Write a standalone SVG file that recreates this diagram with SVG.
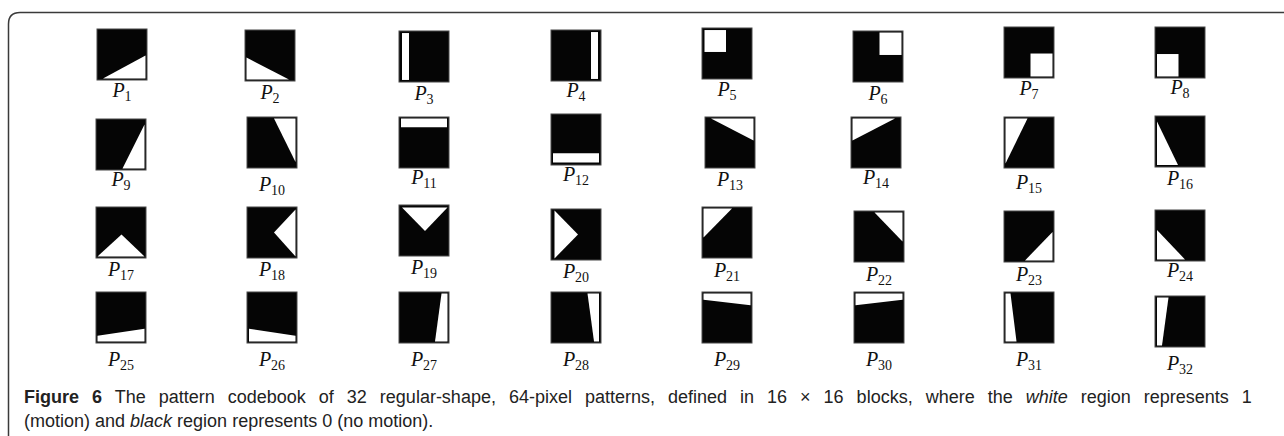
<svg xmlns="http://www.w3.org/2000/svg" width="1284" height="436" viewBox="0 0 1284 436">
<style>
.box{fill:#050505;stroke:#4a4a4a;stroke-width:1}
.w{fill:#fff}
.lbl{font-family:"Liberation Serif",serif;font-style:italic;font-size:20px;fill:#111;text-anchor:middle}
.sub{font-style:normal;font-size:14px}
.cap{font-family:"Liberation Sans",sans-serif;font-size:18px;fill:#222}
.frame{fill:none;stroke:#3a3a3a;stroke-width:1.5}
</style>
<rect width="1284" height="436" fill="#fff"/>
<path class="frame" d="M8.5 436 L8.5 24 Q8.5 12.5 20 12.5 L1284 12.5"/>
<g id="P1" transform="translate(97,29)"><g transform="scale(1,1.02)"><rect class="box" width="50" height="50"/><polygon class="w" points="6,48.5 48.5,48.5 48.5,26"/></g><text class="lbl" x="25" y="68">P<tspan class="sub" dy="4">1</tspan></text></g>
<g id="P2" transform="translate(245,30)"><g transform="scale(1,1.02)"><rect class="box" width="50" height="50"/><polygon class="w" points="1.5,27 1.5,48.5 44,48.5"/></g><text class="lbl" x="25" y="69">P<tspan class="sub" dy="4">2</tspan></text></g>
<g id="P3" transform="translate(399,31)"><g transform="scale(1,1.02)"><rect class="box" width="50" height="50"/><polygon class="w" points="3,2 10,2 10,48 3,48"/></g><text class="lbl" x="25" y="69">P<tspan class="sub" dy="4">3</tspan></text></g>
<g id="P4" transform="translate(551,30)"><g transform="scale(1,1.02)"><rect class="box" width="50" height="50"/><polygon class="w" points="40,2 47,2 47,48 40,48"/></g><text class="lbl" x="25" y="67">P<tspan class="sub" dy="4">4</tspan></text></g>
<g id="P5" transform="translate(702,28)"><g transform="scale(1,1.02)"><rect class="box" width="50" height="50"/><polygon class="w" points="2.5,2 24,2 24,23.5 2.5,23.5"/></g><text class="lbl" x="25" y="68">P<tspan class="sub" dy="4">5</tspan></text></g>
<g id="P6" transform="translate(853,31)"><g transform="scale(1,1.02)"><rect class="box" width="50" height="50"/><polygon class="w" points="26.5,1.5 48.5,1.5 48.5,23.5 26.5,23.5"/></g><text class="lbl" x="25" y="69">P<tspan class="sub" dy="4">6</tspan></text></g>
<g id="P7" transform="translate(1004,27)"><g transform="scale(1,1.02)"><rect class="box" width="50" height="50"/><polygon class="w" points="26.5,26 48.5,26 48.5,48.5 26.5,48.5"/></g><text class="lbl" x="25" y="68">P<tspan class="sub" dy="4">7</tspan></text></g>
<g id="P8" transform="translate(1155,27)"><g transform="scale(1,1.02)"><rect class="box" width="50" height="50"/><polygon class="w" points="2,26.5 23.5,26.5 23.5,48.5 2,48.5"/></g><text class="lbl" x="25" y="67">P<tspan class="sub" dy="4">8</tspan></text></g>
<g id="P9" transform="translate(96,119)"><g transform="scale(1,1.02)"><rect class="box" width="50" height="50"/><polygon class="w" points="26.5,48.5 48.5,48.5 48.5,5.5"/></g><text class="lbl" x="25" y="67">P<tspan class="sub" dy="4">9</tspan></text></g>
<g id="P10" transform="translate(247,117)"><g transform="scale(1,1.02)"><rect class="box" width="50" height="50"/><polygon class="w" points="27,1.5 48.5,1.5 48.5,44"/></g><text class="lbl" x="25" y="74">P<tspan class="sub" dy="4">10</tspan></text></g>
<g id="P11" transform="translate(399,117)"><g transform="scale(1,1.02)"><rect class="box" width="50" height="50"/><polygon class="w" points="2,1.5 48,1.5 48,10 2,10"/></g><text class="lbl" x="25" y="67">P<tspan class="sub" dy="4">11</tspan></text></g>
<g id="P12" transform="translate(551,114)"><g transform="scale(1,1.02)"><rect class="box" width="50" height="50"/><polygon class="w" points="2,38.5 48,38.5 48,47.5 2,47.5"/></g><text class="lbl" x="25" y="67">P<tspan class="sub" dy="4">12</tspan></text></g>
<g id="P13" transform="translate(705,117)"><g transform="scale(1,1.02)"><rect class="box" width="50" height="50"/><polygon class="w" points="6,1.5 48.5,1.5 48.5,23"/></g><text class="lbl" x="25" y="69">P<tspan class="sub" dy="4">13</tspan></text></g>
<g id="P14" transform="translate(851,117)"><g transform="scale(1,1.02)"><rect class="box" width="50" height="50"/><polygon class="w" points="1.5,1.5 44,1.5 1.5,23"/></g><text class="lbl" x="25" y="67">P<tspan class="sub" dy="4">14</tspan></text></g>
<g id="P15" transform="translate(1004,117)"><g transform="scale(1,1.02)"><rect class="box" width="50" height="50"/><polygon class="w" points="1.5,1.5 23.5,1.5 1.5,45.5"/></g><text class="lbl" x="25" y="72">P<tspan class="sub" dy="4">15</tspan></text></g>
<g id="P16" transform="translate(1155,116)"><g transform="scale(1,1.02)"><rect class="box" width="50" height="50"/><polygon class="w" points="2,5.5 2,48 23,48"/></g><text class="lbl" x="25" y="69">P<tspan class="sub" dy="4">16</tspan></text></g>
<g id="P17" transform="translate(96,207)"><g transform="scale(1,1.02)"><rect class="box" width="50" height="50"/><polygon class="w" points="1.5,48.5 48.5,48.5 25.5,27"/></g><text class="lbl" x="25" y="69">P<tspan class="sub" dy="4">17</tspan></text></g>
<g id="P18" transform="translate(247,207)"><g transform="scale(1,1.02)"><rect class="box" width="50" height="50"/><polygon class="w" points="48.5,2.5 48.5,48.5 27,25"/></g><text class="lbl" x="25" y="69">P<tspan class="sub" dy="4">18</tspan></text></g>
<g id="P19" transform="translate(399,205)"><g transform="scale(1,1.02)"><rect class="box" width="50" height="50"/><polygon class="w" points="3,2.5 48.5,2.5 26,25.5"/></g><text class="lbl" x="25" y="69">P<tspan class="sub" dy="4">19</tspan></text></g>
<g id="P20" transform="translate(551,209)"><g transform="scale(1,1.02)"><rect class="box" width="50" height="50"/><polygon class="w" points="3.5,1.5 3.5,48.5 27,25"/></g><text class="lbl" x="25" y="69">P<tspan class="sub" dy="4">20</tspan></text></g>
<g id="P21" transform="translate(702,207)"><g transform="scale(1,1.02)"><rect class="box" width="50" height="50"/><polygon class="w" points="1.5,1.5 30,1.5 1.5,30"/></g><text class="lbl" x="25" y="70">P<tspan class="sub" dy="4">21</tspan></text></g>
<g id="P22" transform="translate(854,211)"><g transform="scale(1,1.02)"><rect class="box" width="50" height="50"/><polygon class="w" points="20.5,1.5 48.5,1.5 48.5,30"/></g><text class="lbl" x="25" y="70">P<tspan class="sub" dy="4">22</tspan></text></g>
<g id="P23" transform="translate(1004,211)"><g transform="scale(1,1.02)"><rect class="box" width="50" height="50"/><polygon class="w" points="48.5,20.5 48.5,48.5 21,48.5"/></g><text class="lbl" x="25" y="70">P<tspan class="sub" dy="4">23</tspan></text></g>
<g id="P24" transform="translate(1155,210)"><g transform="scale(1,1.02)"><rect class="box" width="50" height="50"/><polygon class="w" points="2,19.5 2,48.5 30,48.5"/></g><text class="lbl" x="25" y="67">P<tspan class="sub" dy="4">24</tspan></text></g>
<g id="P25" transform="translate(96,292)"><g transform="scale(1,1.02)"><rect class="box" width="50" height="50"/><polygon class="w" points="1.5,43 48.5,36 48.5,48.5 1.5,48.5"/></g><text class="lbl" x="25" y="74">P<tspan class="sub" dy="4">25</tspan></text></g>
<g id="P26" transform="translate(247,292)"><g transform="scale(1,1.02)"><rect class="box" width="50" height="50"/><polygon class="w" points="2,36 48.5,43 48.5,48.5 2,48.5"/></g><text class="lbl" x="25" y="74">P<tspan class="sub" dy="4">26</tspan></text></g>
<g id="P27" transform="translate(399,292)"><g transform="scale(1,1.02)"><rect class="box" width="50" height="50"/><polygon class="w" points="42.5,1.5 48.5,1.5 48.5,48.5 36,48.5"/></g><text class="lbl" x="25" y="74">P<tspan class="sub" dy="4">27</tspan></text></g>
<g id="P28" transform="translate(551,292)"><g transform="scale(1,1.02)"><rect class="box" width="50" height="50"/><polygon class="w" points="36.5,1.5 48,1.5 48,48.5 43,48.5"/></g><text class="lbl" x="25" y="74">P<tspan class="sub" dy="4">28</tspan></text></g>
<g id="P29" transform="translate(702,292)"><g transform="scale(1,1.02)"><rect class="box" width="50" height="50"/><polygon class="w" points="1.5,1.5 48.5,1.5 48.5,13 1.5,7.5"/></g><text class="lbl" x="25" y="74">P<tspan class="sub" dy="4">29</tspan></text></g>
<g id="P30" transform="translate(854,292)"><g transform="scale(1,1.02)"><rect class="box" width="50" height="50"/><polygon class="w" points="1.5,1.5 48.5,1.5 48.5,7.5 1.5,13"/></g><text class="lbl" x="25" y="74">P<tspan class="sub" dy="4">30</tspan></text></g>
<g id="P31" transform="translate(1004,292)"><g transform="scale(1,1.02)"><rect class="box" width="50" height="50"/><polygon class="w" points="1.5,1.5 6.5,1.5 12.5,48.5 1.5,48.5"/></g><text class="lbl" x="25" y="74">P<tspan class="sub" dy="4">31</tspan></text></g>
<g id="P32" transform="translate(1155,296)"><g transform="scale(1,1.02)"><rect class="box" width="50" height="50"/><polygon class="w" points="2,1.5 13.5,1.5 7,48.5 2,48.5"/></g><text class="lbl" x="25" y="74">P<tspan class="sub" dy="4">32</tspan></text></g>
<g id="caption">
<text class="cap" x="24" y="403" word-spacing="8"><tspan font-weight="bold">Figure 6</tspan> The pattern codebook of 32 regular-shape, 64-pixel patterns, defined in 16 × 16 blocks, where the <tspan font-style="italic">white</tspan> region represents 1</text>
<text class="cap" x="24" y="427">(motion) and <tspan font-style="italic">black</tspan> region represents 0 (no motion).</text>
</g>
</svg>
